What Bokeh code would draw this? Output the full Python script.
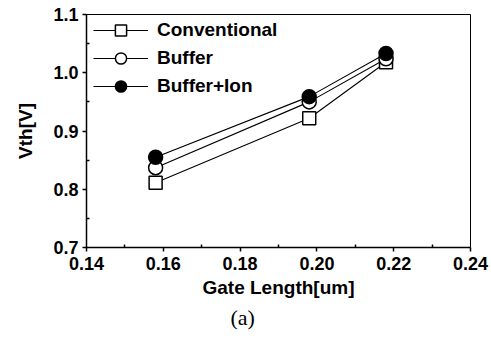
from bokeh.plotting import figure
from bokeh.models import Range1d, Legend, LegendItem, FixedTicker, Title
from bokeh.embed import file_html
from bokeh.resources import INLINE

gate_length = [0.158, 0.198, 0.218]
vth_conventional = [0.811, 0.922, 1.018]
vth_buffer = [0.837, 0.950, 1.024]
vth_buffer_ion = [0.855, 0.959, 1.033]
series_names = ["Conventional", "Buffer", "Buffer+Ion"]
x_ticks = [0.14, 0.16, 0.18, 0.20, 0.22, 0.24]
y_ticks = [0.7, 0.8, 0.9, 1.0, 1.1]

FONT = "Liberation Sans"

p = figure(width=491, height=341, output_backend="svg", toolbar_location=None,
           x_range=Range1d(0.14, 0.24), y_range=Range1d(0.7, 1.1),
           min_border_left=86, min_border_right=21, min_border_top=14, min_border_bottom=94)
p.background_fill_color = "white"
p.border_fill_color = "white"
p.outline_line_color = "black"
p.outline_line_width = 1
p.xgrid.visible = False
p.ygrid.visible = False

p.xaxis.ticker = FixedTicker(ticks=x_ticks, minor_ticks=[0.15, 0.17, 0.19, 0.21, 0.23])
p.yaxis.ticker = FixedTicker(ticks=y_ticks, minor_ticks=[0.75, 0.85, 0.95, 1.05])
p.xaxis.major_label_overrides = {t: f"{t:.2f}" for t in x_ticks}
p.yaxis.major_label_overrides = {t: f"{t:.1f}" for t in y_ticks}

for ax in (p.xaxis, p.yaxis):
    ax.axis_line_width = 1.5
    ax.axis_line_color = "black"
    ax.major_tick_line_color = "black"
    ax.major_tick_line_width = 1.5
    ax.major_tick_out = 4
    ax.major_tick_in = 0
    ax.minor_tick_line_color = "black"
    ax.minor_tick_line_width = 1.5
    ax.minor_tick_out = 0
    ax.minor_tick_in = 3
    ax.major_label_text_font = FONT
    ax.major_label_text_font_style = "bold"
    ax.major_label_text_font_size = "18px"
    ax.major_label_text_color = "black"
    ax.axis_label_text_font = FONT
    ax.axis_label_text_font_style = "bold"
    ax.axis_label_text_font_size = "19px"
    ax.axis_label_text_color = "black"

p.xaxis.axis_label = "Gate Length[um]"
p.yaxis.axis_label = "Vth[V]"
p.xaxis.major_label_standoff = 5
p.yaxis.major_label_standoff = 4
p.xaxis.axis_label_standoff = 4
p.yaxis.axis_label_standoff = 14

l1 = p.line(gate_length, vth_conventional, line_color="black", line_width=1.1)
s1 = p.scatter(gate_length, vth_conventional, marker="square", size=13,
               fill_color="white", line_color="black", line_width=1.5)
l2 = p.line(gate_length, vth_buffer, line_color="black", line_width=1.1)
s2 = p.scatter(gate_length, vth_buffer, marker="circle", size=14,
               fill_color="white", line_color="black", line_width=1.5)
l3 = p.line(gate_length, vth_buffer_ion, line_color="black", line_width=1.1)
s3 = p.scatter(gate_length, vth_buffer_ion, marker="circle", size=14,
               fill_color="black", line_color="black", line_width=1.5)

items = [LegendItem(label=series_names[0], renderers=[l1, s1]),
         LegendItem(label=series_names[1], renderers=[l2, s2]),
         LegendItem(label=series_names[2], renderers=[l3, s3])]
legend = Legend(items=items, location=(7, 147), margin=0, padding=0,
                glyph_width=55, glyph_height=28, label_height=20, spacing=0,
                label_standoff=9, border_line_color=None, background_fill_alpha=0,
                label_text_font=FONT, label_text_font_style="bold",
                label_text_font_size="19px", label_text_color="black")
p.add_layout(legend, "center")

cap = Title(text="(a)", align="left", offset=144, standoff=4, text_font="Liberation Serif",
            text_font_style="normal", text_font_size="22px", text_color="black")
p.add_layout(cap, "below")

open("out.html", "w").write(file_html(p, INLINE))
